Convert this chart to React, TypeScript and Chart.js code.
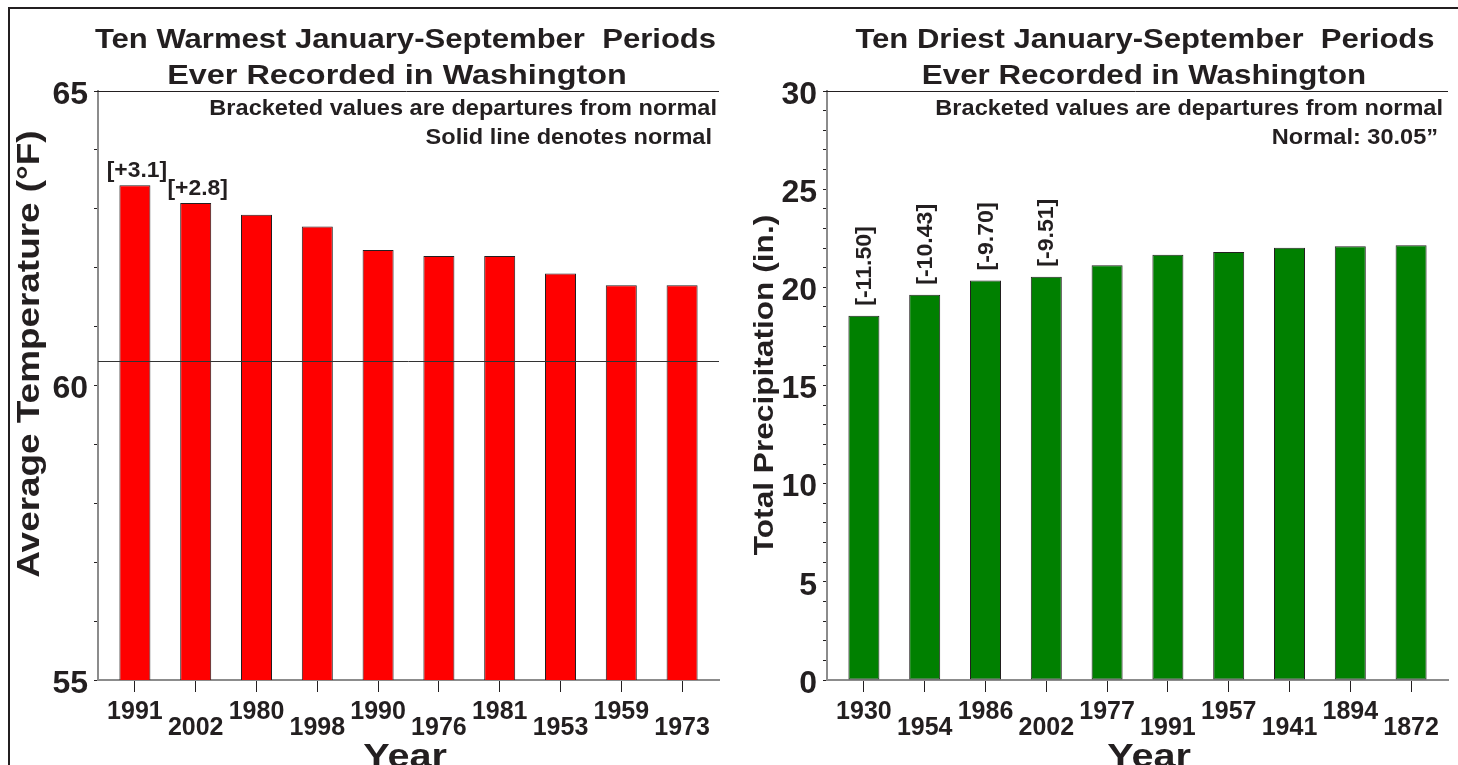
import React, { useEffect, useRef } from 'react';
import { Chart, registerables } from 'chart.js';

Chart.register(...registerables);

// ---------------- data ----------------
const tempYears = ['1991', '2002', '1980', '1998', '1990', '1976', '1981', '1953', '1959', '1973'];
const tempValues = [63.4, 63.1, 62.9, 62.7, 62.3, 62.2, 62.2, 61.9, 61.7, 61.7];
const tempNormal = 60.42;
const tempBracketLabels = ['[+3.1]', '[+2.8]'];
const tempYTicks = [55, 56, 57, 58, 59, 60, 61, 62, 63, 64, 65];

const precipYears = ['1930', '1954', '1986', '2002', '1977', '1991', '1957', '1941', '1894', '1872'];
const precipValues = [18.55, 19.62, 20.35, 20.54, 21.12, 21.66, 21.8, 22.02, 22.09, 22.14];
const precipBracketLabels = ['[-11.50]', '[-10.43]', '[-9.70]', '[-9.51]'];
const precipYTicks = [
  0, 1, 2, 3, 4, 5, 6, 7, 8, 9, 10, 11, 12, 13, 14, 15, 16, 17, 18, 19, 20, 21, 22, 23, 24, 25, 26, 27, 28, 29, 30,
];

const tempTitle = ['Ten Warmest January-September  Periods', 'Ever Recorded in Washington'];
const tempNotes = ['Bracketed values are departures from normal', 'Solid line denotes normal'];
const tempAxisTitle = 'Average Temperature (°F)';
const precipTitle = ['Ten Driest January-September  Periods', 'Ever Recorded in Washington'];
const precipNotes = ['Bracketed values are departures from normal', 'Normal: 30.05\u201D'];
const precipAxisTitle = 'Total Precipitation (in.)';
const xAxisTitle = 'Year';

// ---------------- styles ----------------
const INK = '#231f20';
const AXIS_GRAY = '#8c8c8c';
const FONT = '"Liberation Sans", Arial, Helvetica, sans-serif';
const CW = 729;
const CH = 765;

function drawText(
  ctx: CanvasRenderingContext2D,
  text: string,
  x: number,
  y: number,
  size: number,
  sx: number,
  align: CanvasTextAlign,
  baseline: CanvasTextBaseline,
  rotate = false
) {
  ctx.save();
  ctx.translate(x, y);
  if (rotate) ctx.rotate(-Math.PI / 2);
  ctx.scale(sx, 1);
  ctx.font = `bold ${size}px ${FONT}`;
  ctx.fillStyle = INK;
  ctx.textAlign = align;
  ctx.textBaseline = baseline;
  ctx.fillText(text, 0, 0);
  ctx.restore();
}

type Spec = {
  kind: 'temp' | 'precip';
  left: number;
  years: string[];
  values: number[];
  color: string;
  yMin: number;
  yMax: number;
  yTicks: number[];
  title: string[];
  notes: string[];
  axisTitle: string;
  brackets: string[];
  layoutText: {
    t1x: number;
    t2x: number;
    t2sx: number;
    n1x: number;
    n2x: number;
    ytx: number;
    yty: number;
    ytSize: number;
    ytSx: number;
    yearX: number;
  };
};

function makeDecor(spec: Spec) {
  return {
    id: 'decor_' + spec.kind,
    afterDatasetsDraw(chart: any) {
      const ctx: CanvasRenderingContext2D = chart.ctx;
      const area = chart.chartArea;
      const yScale = chart.scales.y;
      const meta = chart.getDatasetMeta(0);
      if (spec.kind === 'temp') {
        const ny = Math.round(yScale.getPixelForValue(tempNormal)) + 0.5;
        ctx.save();
        ctx.strokeStyle = '#333333';
        ctx.lineWidth = 1;
        ctx.beginPath();
        ctx.moveTo(area.left, ny);
        ctx.lineTo(area.right, ny);
        ctx.stroke();
        ctx.restore();
        spec.brackets.forEach((lbl, i) => {
          const el = meta.data[i];
          drawText(ctx, lbl, el.x + 2, el.y - 3, 22, 1.04, 'center', 'bottom');
        });
      } else {
        spec.brackets.forEach((lbl, i) => {
          const el = meta.data[i];
          drawText(ctx, lbl, el.x + 1, el.y - 10, 22, 1.05, 'left', 'middle', true);
        });
      }
    },
    afterDraw(chart: any) {
      const ctx: CanvasRenderingContext2D = chart.ctx;
      const area = chart.chartArea;
      const L = spec.layoutText;
      ctx.save();
      ctx.strokeStyle = INK;
      ctx.lineWidth = 1;
      ctx.beginPath();
      ctx.moveTo(area.left - 4, Math.round(area.top) + 0.5);
      ctx.lineTo(area.right, Math.round(area.top) + 0.5);
      ctx.stroke();
      ctx.restore();

      drawText(ctx, spec.title[0], L.t1x, 48, 27, 1.15, 'center', 'alphabetic');
      drawText(ctx, spec.title[1], L.t2x, 84, 27, L.t2sx, 'center', 'alphabetic');
      drawText(ctx, spec.notes[0], L.n1x, 115, 22, 1.07, 'right', 'alphabetic');
      drawText(ctx, spec.notes[1], L.n2x, 144, 22, 1.07, 'right', 'alphabetic');
      drawText(ctx, spec.axisTitle, L.ytx, L.yty, L.ytSize, L.ytSx, 'center', 'middle', true);
      drawText(ctx, xAxisTitle, L.yearX, 767, 33, 1.2, 'center', 'alphabetic');
    },
  };
}

function buildConfig(spec: Spec): any {
  const years = spec.years;
  return {
    type: 'bar',
    data: {
      datasets: [
        {
          data: spec.values.map((v, i) => ({ x: i, y: v })),
          backgroundColor: spec.color,
          borderColor: INK,
          borderWidth: 1,
          borderSkipped: false,
          barPercentage: 0.51,
          categoryPercentage: 1,
        },
      ],
    },
    plugins: [makeDecor(spec)],
    options: {
      responsive: false,
      animation: false,
      devicePixelRatio: 1,
      events: [],
      layout: { padding: { left: 0, right: 10, top: 91, bottom: 0 } },
      plugins: {
        legend: { display: false },
        tooltip: { enabled: false },
        title: { display: false },
      },
      scales: {
        x: {
          type: 'linear',
          offset: false,
          min: -0.607,
          max: 9.607,
          afterBuildTicks: (s: any) => {
            s.ticks = years.map((_, i) => ({ value: i }));
          },
          afterFit: (s: any) => {
            s.height = 85;
          },
          ticks: {
            autoSkip: false,
            maxRotation: 0,
            minRotation: 0,
            padding: 12,
            color: INK,
            font: { family: FONT, size: 25, weight: 'bold', lineHeight: '16px' },
            callback: (_v: any, i: number) => (i % 2 === 0 ? years[i] : ['', years[i]]),
          },
          grid: {
            display: true,
            offset: false,
            drawOnChartArea: false,
            drawTicks: true,
            tickLength: 12,
            tickColor: INK,
            tickWidth: 1,
          },
          border: { display: true, color: AXIS_GRAY, width: 2 },
        },
        y: {
          type: 'linear',
          min: spec.yMin,
          max: spec.yMax,
          afterBuildTicks: (s: any) => {
            s.ticks = spec.yTicks.map((v) => ({ value: v }));
          },
          afterFit: (s: any) => {
            s.width = 98;
          },
          ticks: {
            autoSkip: false,
            padding: 6,
            labelOffset: 4,
            color: INK,
            font: { family: FONT, size: 32, weight: 'bold' },
            callback: (v: any) => (Number(v) % 5 === 0 ? String(v) : ''),
          },
          grid: {
            display: true,
            drawOnChartArea: false,
            drawTicks: true,
            tickLength: 4,
            tickColor: INK,
            tickWidth: 1,
          },
          border: { display: true, color: AXIS_GRAY, width: 2 },
        },
      },
    },
  };
}

const tempSpec: Spec = {
  kind: 'temp',
  left: 0,
  years: tempYears,
  values: tempValues,
  color: '#ff0000',
  yMin: 55,
  yMax: 65,
  yTicks: tempYTicks,
  title: tempTitle,
  notes: tempNotes,
  axisTitle: tempAxisTitle,
  brackets: tempBracketLabels,
  layoutText: {
    t1x: 405.5,
    t2x: 397,
    t2sx: 1.2,
    n1x: 717,
    n2x: 712,
    ytx: 30,
    yty: 354,
    ytSize: 31,
    ytSx: 1.19,
    yearX: 405,
  },
};

const precipSpec: Spec = {
  kind: 'precip',
  left: CW,
  years: precipYears,
  values: precipValues,
  color: '#008000',
  yMin: 0,
  yMax: 30,
  yTicks: precipYTicks,
  title: precipTitle,
  notes: precipNotes,
  axisTitle: precipAxisTitle,
  brackets: precipBracketLabels,
  layoutText: {
    t1x: 416,
    t2x: 415,
    t2sx: 1.16,
    n1x: 714,
    n2x: 709,
    ytx: 36,
    yty: 385,
    ytSize: 28,
    ytSx: 1.13,
    yearX: 420,
  },
};

function Panel({ spec }: { spec: Spec }) {
  const ref = useRef<HTMLCanvasElement | null>(null);
  useEffect(() => {
    if (!ref.current) return;
    const chart = new Chart(ref.current, buildConfig(spec));
    return () => chart.destroy();
  }, [spec]);
  return (
    <canvas
      ref={ref}
      width={CW}
      height={CH}
      style={{ position: 'absolute', left: spec.left, top: 0, width: CW, height: CH }}
    />
  );
}

export default function App() {
  return (
    <div
      style={{
        position: 'absolute',
        left: 0,
        top: 0,
        width: 1458,
        height: 765,
        background: '#ffffff',
        overflow: 'hidden',
      }}
    >
      <div
        style={{
          position: 'absolute',
          left: 8,
          top: 7,
          width: 1450,
          height: 758,
          borderTop: `2px solid ${INK}`,
          borderLeft: `2px solid ${INK}`,
          boxSizing: 'border-box',
        }}
      />
      <Panel spec={tempSpec} />
      <Panel spec={precipSpec} />
    </div>
  );
}
